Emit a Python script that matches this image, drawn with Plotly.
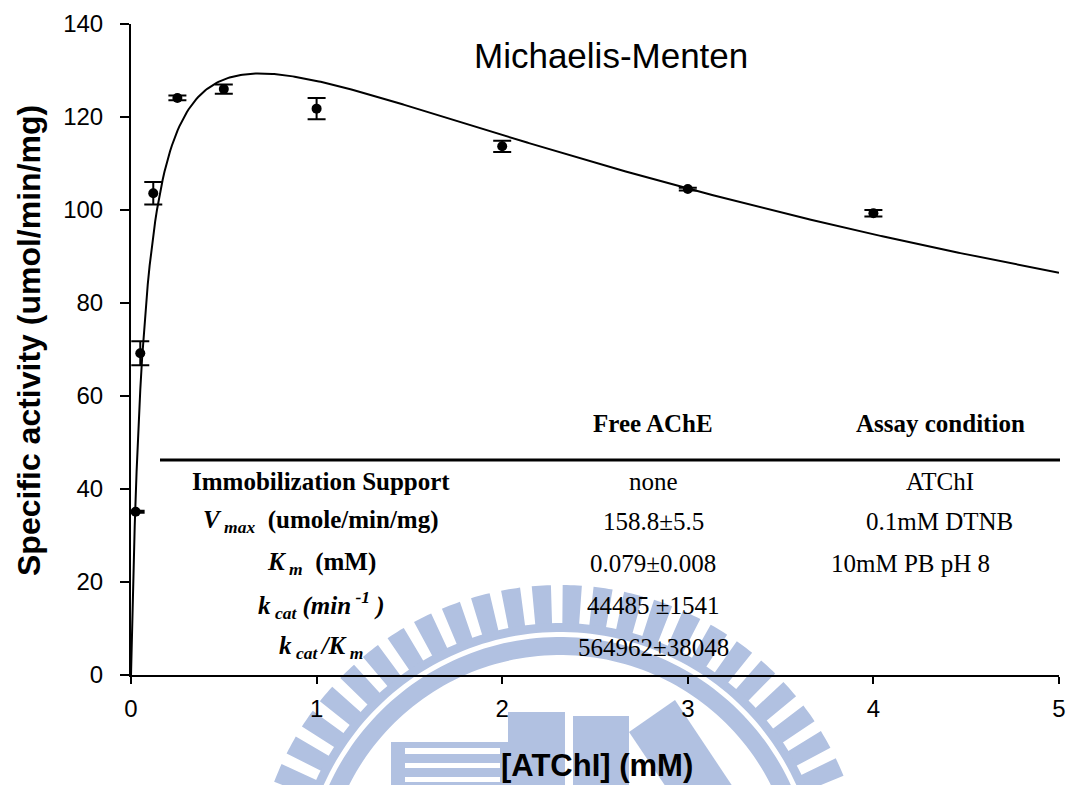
import numpy as np
import plotly.graph_objects as go

# ---- measured data -------------------------------------------------------
conc_mM = [0.025, 0.05, 0.12, 0.25, 0.5, 1, 2, 3, 4]
activity = [35.1, 69.2, 103.6, 124.1, 126.0, 121.8, 113.7, 104.5, 99.3]
activity_err = [0.2, 2.6, 2.4, 0.5, 1.0, 2.3, 1.2, 0.3, 0.7]

# ---- fitted kinetic parameters (substrate-inhibition form) ----------------
VMAX = 158.8   # umole/min/mg
KM = 0.079     # mM
KI = 6.1       # mM

x_ticks = [0, 1, 2, 3, 4, 5]
y_ticks = [0, 20, 40, 60, 80, 100, 120, 140]

# ---- kinetic summary table ------------------------------------------------
col_headers = ["Free AChE", "Assay condition"]
row_labels = [
    "<b>Immobilization Support</b>",
    "<b><i>V</i></b><sub><b><i>&nbsp;max</i></b></sub><b>&nbsp; (umole/min/mg)</b>",
    "<b><i>K</i></b><sub><b><i>&nbsp;m</i></b></sub><b>&nbsp; (mM)</b>",
    "<b><i>k</i></b><sub><b><i>&nbsp;cat</i></b></sub><b><i>&nbsp;(min</i></b>"
    "<sup><b><i>&nbsp;-1</i></b></sup><b><i>&nbsp;)</i></b>",
    "<b><i>k</i></b><sub><b><i>&nbsp;cat&nbsp;</i></b></sub><b><i>/K</i></b>"
    "<sub><b><i>&nbsp;m</i></b></sub>",
]
free_ache = ["none", "158.8±5.5", "0.079±0.008", "44485 ±1541", "564962±38048"]
assay_cond = ["ATChI", "0.1mM DTNB", "10mM PB pH 8", "", ""]

# ---- page geometry --------------------------------------------------------
W, H = 1069, 785
L, R, T, B = 131, 10, 24, 110
PW, PH = W - L - R, H - T - B


def px(x):
    return (x - L) / PW


def py(y):
    return (H - B - y) / PH


SANS = "Arial, Liberation Sans, sans-serif"
SERIF = "Times New Roman, Liberation Serif, serif"
WM = "rgb(177,193,225)"

fig = go.Figure()

s = np.linspace(0, 5, 500)
v = VMAX * s / (KM + s + s ** 2 / KI)
fig.add_trace(go.Scatter(x=s, y=v, mode="lines",
                         line=dict(color="black", width=2), hoverinfo="skip"))

fig.add_trace(go.Scatter(
    x=conc_mM, y=activity, mode="markers",
    marker=dict(color="black", size=10),
    error_y=dict(type="data", array=activity_err, color="black",
                 thickness=2, width=9),
))

# ---- background emblem ----------------------------------------------------
shapes = []
cx, cy = 560, 891


def path_from(points):
    return "M " + " L ".join(f"{px(a):.5f},{py(b):.5f}" for a, b in points) + " Z"


def annulus(r_out, r_in, a0=0, a1=180, n=120):
    ang = np.radians(np.linspace(a0, a1, n))
    outer = [(cx + r_out * np.cos(t), cy - r_out * np.sin(t)) for t in ang]
    inner = [(cx + r_in * np.cos(t), cy - r_in * np.sin(t)) for t in ang[::-1]]
    return path_from(outer + inner)


# radial teeth
teeth = []
period, tooth = 5.8, 3.6
a = 93.5 - period * 16
while a < 181:
    teeth.append(annulus(306, 266, a - tooth / 2, a + tooth / 2, n=6))
    a += period
shapes.append(dict(type="path", path=" ".join(teeth), xref="paper", yref="paper",
                   fillcolor=WM, line=dict(width=0), layer="below"))
shapes.append(dict(type="path", path=annulus(268, 259), xref="paper", yref="paper",
                   fillcolor=WM, line=dict(width=0), layer="below"))
shapes.append(dict(type="path", path=annulus(254, 236), xref="paper", yref="paper",
                   fillcolor=WM, line=dict(width=0), layer="below"))

# central letter blocks
for x0, y0, x1, y1, col in [
    (391, 742, 508, 790, WM),
    (405, 748, 500, 754, "white"),
    (405, 763, 500, 768, "white"),
    (405, 777, 500, 782, "white"),
    (508, 712, 565, 790, WM),
    (573, 716, 629, 790, WM),
]:
    shapes.append(dict(type="rect", xref="paper", yref="paper",
                       x0=px(x0), x1=px(x1), y0=py(y1), y1=py(y0),
                       fillcolor=col, line=dict(width=0), layer="below"))
shapes.append(dict(type="path", xref="paper", yref="paper",
                   path=path_from([(629, 732), (675, 700), (735, 790), (668, 790)]),
                   fillcolor=WM, line=dict(width=0), layer="below"))

# table rule
shapes.append(dict(type="line", xref="paper", yref="paper",
                   x0=px(160), x1=px(1060), y0=py(460), y1=py(460),
                   line=dict(color="black", width=3), layer="above"))

# ---- text -----------------------------------------------------------------
ann = []


def label(text, x, y, font, **kw):
    ann.append(dict(text=text, x=px(x), y=py(y), xref="paper", yref="paper",
                    xanchor="center", yanchor="middle", showarrow=False,
                    font=font, **kw))


label("Michaelis-Menten", 611, 55, dict(family=SANS, size=35, color="black"))
label("<b>[ATChI] (mM)</b>", 597, 766, dict(family=SANS, size=31, color="black"))
label("<b>Specific activity (umol/min/mg)</b>", 29, 341,
      dict(family=SANS, size=32, color="black"), textangle=-90)

tfont = dict(family=SERIF, size=25, color="black")
label("<b>" + col_headers[0] + "</b>", 653, 423, tfont)
label("<b>" + col_headers[1] + "</b>", 940, 423, tfont)

row_y = [481, 521, 563, 605, 647]
assay_x = [940, 939, 910, 940, 940]
for i, yy in enumerate(row_y):
    label(row_labels[i], 321, yy, tfont)
    label(free_ache[i], 653, yy, tfont)
    if assay_cond[i]:
        label(assay_cond[i], assay_x[i], yy, tfont)

fig.update_layout(
    width=W, height=H,
    margin=dict(l=L, r=R, t=T, b=B, autoexpand=False),
    paper_bgcolor="white",
    plot_bgcolor="rgba(0,0,0,0)",
    showlegend=False,
    shapes=shapes,
    annotations=ann,
    font=dict(family=SANS, color="black"),
)

fig.update_xaxes(
    range=[0, 5], tickvals=x_ticks, showgrid=False, zeroline=False, automargin=False,
    showline=True, linecolor="black", linewidth=2,
    ticks="outside", ticklen=7, tickwidth=2, tickcolor="black", ticklabelstandoff=4,
    tickfont=dict(family=SANS, size=24, color="black"),
)
fig.update_yaxes(
    range=[0, 140], tickvals=y_ticks, showgrid=False, zeroline=False, automargin=False,
    showline=True, linecolor="black", linewidth=2,
    ticks="outside", ticklen=9, tickwidth=2, tickcolor="black", ticklabelstandoff=12,
    tickfont=dict(family=SANS, size=24, color="black"),
)

fig.write_html("out.html")
